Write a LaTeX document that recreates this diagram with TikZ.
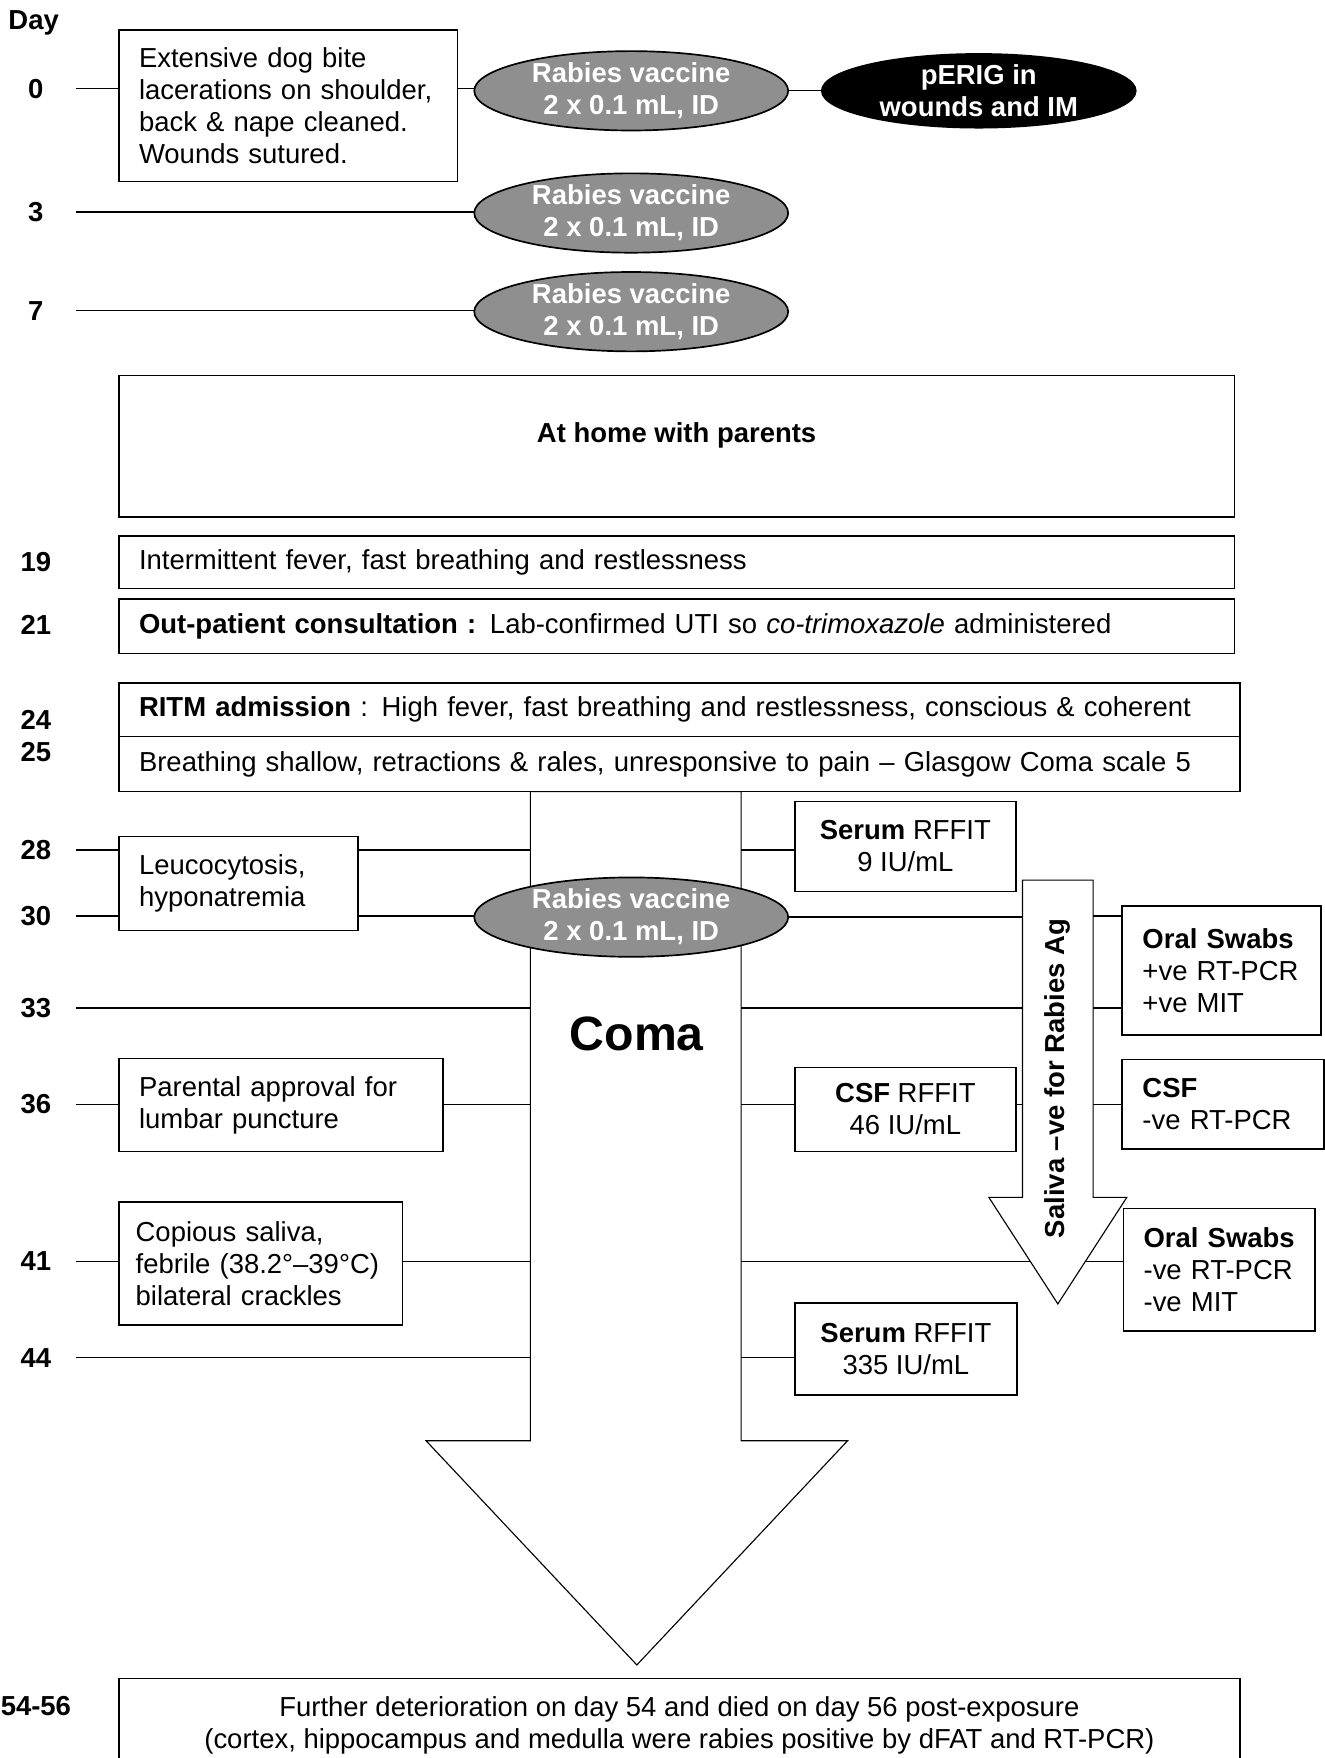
\documentclass[tikz,border=0pt]{standalone}
\usepackage{fontspec}
\setmainfont{Liberation Sans}
\usetikzlibrary{shapes.geometric,positioning}
\newcommand{\normtxt}{\fontsize{24.5}{28.5}\selectfont}
\definecolor{vacgray}{RGB}{143,143,143}

\begin{document}
\begin{tikzpicture}[
    x=1pt, y=-1pt,
    daylab/.style={font=\normtxt\bfseries, minimum width=72pt, inner sep=0pt},
    event/.style={rectangle, draw=black, line width=1.5pt, fill=white, anchor=north west, align=left, inner xsep=18pt, inner ysep=0pt, outer sep=0pt, font=\normtxt},
    result/.style={rectangle, draw=black, line width=1.5pt, fill=white, anchor=north west, align=center, inner sep=0pt, outer sep=0pt, font=\normtxt},
    vaccine/.style={ellipse, draw=black, line width=1.5pt, fill=vacgray, minimum width=280pt, minimum height=58pt, inner sep=0pt, outer sep=0pt, align=center, text=white, font=\normtxt\bfseries},
    serum/.style={vaccine, fill=black},
    link/.style={line width=1.2pt},
    bigarrow/.style={draw=black, line width=1pt, fill=white}
]
\useasboundingbox (0,0) rectangle (1181,1568);

% Coma arrow
\coordinate (comaL) at (473,706);
\coordinate (comaR) at (661,706);
\coordinate (salL) at (912,785);
\coordinate (salR) at (975,785);
\draw[bigarrow] (comaL) -- (473,1285) -- (380,1285) -- (568,1485) -- (756,1285) -- (661,1285) -- (comaR) -- cycle;
\node[font=\fontsize{43}{50}\selectfont\bfseries] (coma) at (568,922) {Coma};

% Day column
\node[font=\normtxt\bfseries] (day) at (30,20) {Day};
\node[daylab] (d0) at (32,79) {0};
\node[daylab] (d3) at (32,189) {3};
\node[daylab] (d7) at (32,277) {7};
\node[daylab] (d19) at (32,501) {19};
\node[daylab] (d21) at (32,557) {21};
\node[daylab] (d24) at (32,642) {24};
\node[daylab] (d25) at (32,671) {25};
\node[daylab] (d28) at (32,758) {28};
\node[daylab] (d30) at (32,817) {30};
\node[daylab] (d33) at (32,899) {33};
\node[daylab] (d36) at (32,985) {36};
\node[daylab] (d41) at (32,1125) {41};
\node[daylab] (d44) at (32,1211) {44};
\node[daylab] (d54) at (32,1522) {54-56};

% Post-exposure treatment
\node[event, text width=266pt, minimum height=135pt] (bite) at (106,27) {Extensive dog bite\\lacerations on shoulder,\\back \& nape cleaned.\\Wounds sutured.};
\node[vaccine] (vac0) at (563,81) {Rabies vaccine\\2 x 0.1 mL, ID};
\node[serum, right=30pt of vac0] (erig) {pERIG in\\wounds and IM};
\node[vaccine] (vac3) at (563,190) {Rabies vaccine\\2 x 0.1 mL, ID};
\node[vaccine] (vac7) at (563,278) {Rabies vaccine\\2 x 0.1 mL, ID};

% Onset and admission
\node[result, minimum width=995pt, minimum height=126pt, text depth=25pt, font=\normtxt\bfseries] (home) at (106,335) {At home with parents};
\node[event, text width=959pt, minimum height=47pt] (fever) at (106,478) {Intermittent fever, fast breathing and restlessness};
\node[event, text width=959pt, minimum height=49pt] (opd) at (106,534) {\textbf{Out-patient consultation :} Lab-confirmed UTI so \textit{co-trimoxazole} administered};
\node[event, text width=964pt, minimum height=48pt] (ritm) at (106,609) {\textbf{RITM admission} : High fever, fast breathing and restlessness, conscious \& coherent};
\node[event, text width=964pt, minimum height=49pt, below=0pt of ritm] (gcs) {Breathing shallow, retractions \& rales, unresponsive to pain – Glasgow Coma scale 5};

% Clinical course (left) and lab results (right)
\node[event, text width=177pt, minimum height=84pt] (leuco) at (106,746) {Leucocytosis,\\hyponatremia};
\node[result, minimum width=197pt, minimum height=80pt] (serum1) at (709,715) {\textbf{Serum} RFFIT\\9 IU/mL};
\node[vaccine] (vac30) at (563,818) {Rabies vaccine\\2 x 0.1 mL, ID};
\node[event, text width=141pt, minimum height=115pt] (oral1) at (1001,808) {\textbf{Oral Swabs}\\+ve RT-PCR\\+ve MIT};
\node[event, text width=253pt, minimum height=83pt] (lumbar) at (106,944) {Parental approval for\\lumbar puncture};
\node[result, minimum width=197pt, minimum height=75pt] (csfrffit) at (709,952) {\textbf{CSF} RFFIT\\46 IU/mL};
\node[event, text width=144pt, minimum height=80pt] (csfpcr) at (1001,945) {\textbf{CSF}\\-ve RT-PCR};
\node[event, inner xsep=15pt, text width=223pt, minimum height=110pt] (crackles) at (106,1072) {Copious saliva,\\febrile (38.2°–39°C)\\bilateral crackles};
\node[event, text width=135pt, minimum height=109pt] (oral2) at (1002,1078) {\textbf{Oral Swabs}\\-ve RT-PCR\\-ve MIT};
\node[result, minimum width=198pt, minimum height=82pt] (serum2) at (709,1162) {\textbf{Serum} RFFIT\\335 IU/mL};
\node[result, anchor=north, minimum width=1000pt, inner ysep=16pt] (death) at (606,1497) {Further deterioration on day 54 and died on day 56 post-exposure\\(cortex, hippocampus and medulla were rabies positive by dFAT and RT-PCR)};

% Day 0, 3, 7
\draw[link] (d0.east) -- (d0.east -| bite.west);
\draw[link] (d0.east -| bite.east) -- (d0.east -| vac0.west);
\draw[link] (vac0.east) -- (erig.west);
\draw[link] (d3.east) -- (d3.east -| vac3.west);
\draw[link] (d7.east) -- (d7.east -| vac7.west);

% Day 28
\draw[link] (d28.east) -- (d28.east -| leuco.west);
\draw[link] (d28.east -| leuco.east) -- (d28.east -| comaL);
\draw[link] (d28.east -| comaR) -- (d28.east -| serum1.west);

% Day 30
\draw[link] (d30.east) -- (d30.east -| leuco.west);
\draw[link] (d30.east -| leuco.east) -- (d30.east -| vac30.west);
\draw[link] (vac30.east) -- (vac30.east -| salL);
\draw[link] (d30.east -| salR) -- (d30.east -| oral1.west);

% Day 33
\draw[link] (d33.east) -- (d33.east -| comaL);
\draw[link] (d33.east -| comaR) -- (d33.east -| salL);
\draw[link] (d33.east -| salR) -- (d33.east -| oral1.west);

% Day 36
\draw[link] (d36.east) -- (d36.east -| lumbar.west);
\draw[link] (d36.east -| lumbar.east) -- (d36.east -| comaL);
\draw[link] (d36.east -| comaR) -- (d36.east -| csfrffit.west);
\draw[link] (d36.east -| csfrffit.east) -- (d36.east -| salL);
\draw[link] (d36.east -| salR) -- (d36.east -| csfpcr.west);

% Day 41
\draw[link] (d41.east) -- (d41.east -| crackles.west);
\draw[link] (d41.east -| crackles.east) -- (d41.east -| comaL);
\draw[link] (d41.east -| comaR) -- (d41.east -| oral2.west);

% Day 44
\draw[link] (d44.east) -- (d44.east -| comaL);
\draw[link] (d44.east -| comaR) -- (d44.east -| serum2.west);

% Saliva arrow
\draw[bigarrow] (salL) -- (912,1068) -- (882,1068) -- (943.5,1163) -- (1005,1068) -- (975,1068) -- (salR) -- cycle;
\node[rotate=90, font=\normtxt\bfseries] (salivatxt) at (943.5,962) {Saliva –ve for Rabies Ag};

\end{tikzpicture}
\end{document}
